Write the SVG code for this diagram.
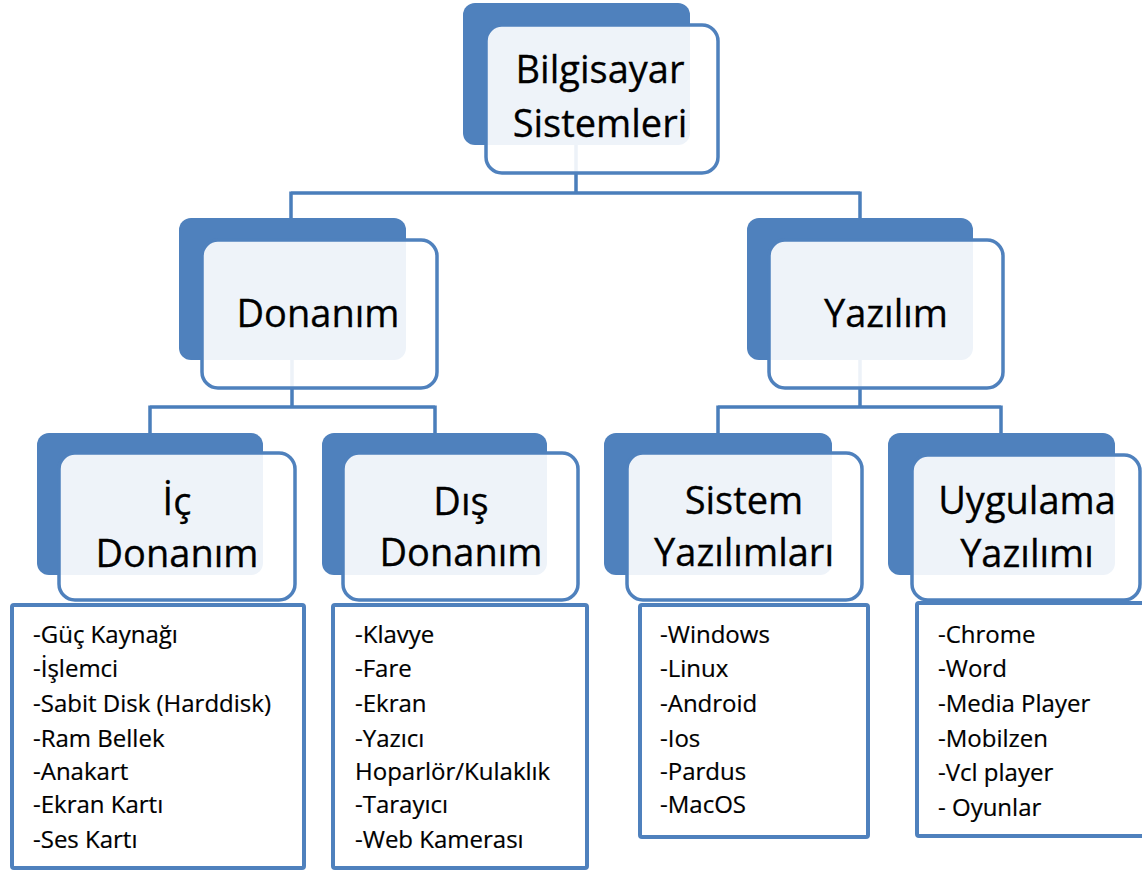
<svg xmlns="http://www.w3.org/2000/svg" width="1142" height="870" viewBox="0 0 1142 870">
<style>
.back{fill:#4F81BD;}
.front{fill:#FFFFFF;fill-opacity:0.9;stroke:#4F81BD;stroke-width:3.5;}
.list{fill:#FFFFFF;stroke:#4F81BD;stroke-width:4;}
.conn{fill:none;stroke:#4A7EBB;stroke-width:3.5;}
.title{font-family:"Open Sans","Noto Sans",sans-serif;font-size:38px;fill:#000;stroke:#000;stroke-width:0.3;text-anchor:middle;}
.item{font-family:"Open Sans","Noto Sans",sans-serif;font-size:24px;fill:#000;stroke:#000;stroke-width:0.2;}
</style>
<rect width="1142" height="870" fill="#FFFFFF"/>
<g id="connectors">
<path class="conn" d="M576 145 V193 M291 193 H860 M291 191.5 V218 M860 191.5 V218"/>
<path class="conn" d="M292 360 V407 M150 407 H435 M150 405.5 V433 M435 405.5 V433"/>
<path class="conn" d="M860 360 V407 M718 407 H1001 M718 405.5 V433 M1001 405.5 V433"/>
</g>
<g id="node-bilgisayar">
<rect class="back" x="463" y="3" width="227" height="142" rx="12"/>
<rect class="front" x="486" y="25" width="232" height="148" rx="16"/>
<text class="title" x="600" y="83">Bilgisayar</text>
<text class="title" x="600" y="137">Sistemleri</text>
</g>
<g id="node-donanim">
<rect class="back" x="179" y="218" width="227" height="142" rx="12"/>
<rect class="front" x="202" y="240" width="235" height="148" rx="16"/>
<text class="title" x="318" y="327">Donanım</text>
</g>
<g id="node-yazilim">
<rect class="back" x="747" y="218" width="226" height="142" rx="12"/>
<rect class="front" x="769" y="240" width="234" height="148" rx="16"/>
<text class="title" x="886" y="327">Yazılım</text>
</g>
<g id="node-ic-donanim">
<rect class="back" x="37" y="433" width="226" height="142" rx="12"/>
<rect class="front" x="59" y="453" width="236" height="147" rx="16"/>
<text class="title" x="177" y="515">İç</text>
<text class="title" x="177" y="567">Donanım</text>
</g>
<g id="node-dis-donanim">
<rect class="back" x="322" y="433" width="225" height="142" rx="12"/>
<rect class="front" x="343" y="453" width="235" height="147" rx="16"/>
<text class="title" x="461" y="515">Dış</text>
<text class="title" x="461" y="566">Donanım</text>
</g>
<g id="node-sistem">
<rect class="back" x="604" y="433" width="228" height="142" rx="12"/>
<rect class="front" x="627" y="453" width="235" height="147" rx="16"/>
<text class="title" x="744" y="514">Sistem</text>
<text class="title" x="744" y="566">Yazılımları</text>
</g>
<g id="node-uygulama">
<rect class="back" x="888" y="433" width="227" height="142" rx="12"/>
<rect class="front" x="912" y="455" width="228" height="145" rx="16"/>
<text class="title" x="1027" y="514">Uygulama</text>
<text class="title" x="1027" y="567">Yazılımı</text>
</g>
<g id="list-ic">
<rect class="list" x="12" y="605" width="292" height="263" rx="2"/>
<text class="item" x="33" y="643">-Güç Kaynağı</text>
<text class="item" x="33" y="677">-İşlemci</text>
<text class="item" x="33" y="712">-Sabit Disk (Harddisk)</text>
<text class="item" x="33" y="747">-Ram Bellek</text>
<text class="item" x="33" y="780">-Anakart</text>
<text class="item" x="33" y="813">-Ekran Kartı</text>
<text class="item" x="33" y="848">-Ses Kartı</text>
</g>
<g id="list-dis">
<rect class="list" x="333" y="605" width="254" height="263" rx="2"/>
<text class="item" x="355" y="643">-Klavye</text>
<text class="item" x="355" y="677">-Fare</text>
<text class="item" x="355" y="712">-Ekran</text>
<text class="item" x="355" y="747">-Yazıcı</text>
<text class="item" x="355" y="780">Hoparlör/Kulaklık</text>
<text class="item" x="355" y="813">-Tarayıcı</text>
<text class="item" x="355" y="848">-Web Kamerası</text>
</g>
<g id="list-sistem">
<rect class="list" x="640" y="605" width="228" height="232" rx="2"/>
<text class="item" x="660" y="643">-Windows</text>
<text class="item" x="660" y="677">-Linux</text>
<text class="item" x="660" y="712">-Android</text>
<text class="item" x="660" y="747">-Ios</text>
<text class="item" x="660" y="780">-Pardus</text>
<text class="item" x="660" y="813">-MacOS</text>
</g>
<g id="list-uygulama">
<rect class="list" x="917" y="603" width="230" height="233" rx="2"/>
<text class="item" x="938" y="643">-Chrome</text>
<text class="item" x="938" y="677">-Word</text>
<text class="item" x="938" y="712">-Media Player</text>
<text class="item" x="938" y="747">-Mobilzen</text>
<text class="item" x="938" y="781">-Vcl player</text>
<text class="item" x="938" y="816">- Oyunlar</text>
</g>
</svg>
